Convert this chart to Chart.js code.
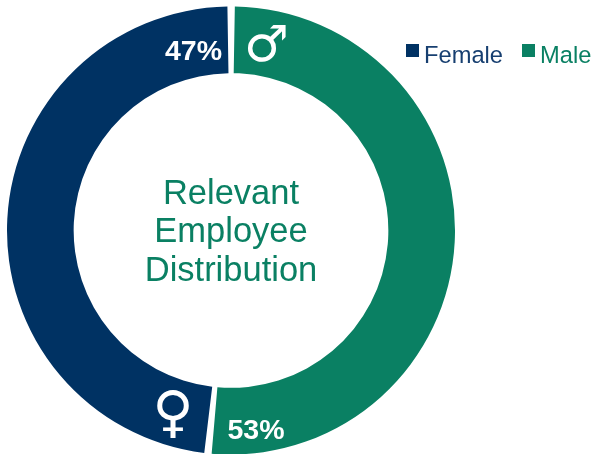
<!DOCTYPE html>
<html><head><meta charset="utf-8">
<style>html,body{margin:0;padding:0;background:#fff;overflow:hidden}#w{position:relative;width:594px;height:454px}</style>
<script src="https://cdn.jsdelivr.net/npm/chart.js@4"></script>
</head><body><div id="w"><canvas id="c" width="594" height="454"></canvas></div>
<script>
const categories = ['Female', 'Male'];
const arcShares = [48.35, 51.65];
const shareLabels = ['47%', '53%'];
const symbols = ['\u2640', '\u2642'];
const centerLines = ['Relevant', 'Employee', 'Distribution'];
const NAVY = '#003263', GREEN = '#0a8063';
const colors = [NAVY, GREEN];
const legendText = ['#173f70', GREEN];
const SANS = '"Liberation Sans", Arial, sans-serif';

const overlay = {
  id: 'overlay',
  afterDraw(chart) {
    const g = chart.ctx;
    g.save();
    g.textBaseline = 'middle';
    g.textAlign = 'center';
    g.fillStyle = '#fff';
    g.font = 'bold 28.5px ' + SANS;
    g.fillText(shareLabels[0], 193.5, 52);
    g.fillText(shareLabels[1], 256, 431);
    g.font = '50px "DejaVu Sans"';
    g.fillText(symbols[1], 266.5, 48);
    g.font = '56px "DejaVu Sans"';
    g.fillText(symbols[0], 173, 416);
    g.fillStyle = GREEN;
    g.font = '34.5px ' + SANS;
    centerLines.forEach((t, i) => g.fillText(t, 231, 194 + i * 38.5));
    g.textAlign = 'left';
    g.font = '23.7px ' + SANS;
    [[406, 424], [522, 540]].forEach((p, i) => {
      g.fillStyle = colors[i];
      g.fillRect(p[0], 44, 13, 13);
      g.fillStyle = legendText[i];
      g.fillText(categories[i], p[1], 56);
    });
    g.restore();
  }
};

new Chart(document.getElementById('c'), {
  type: 'doughnut',
  data: {
    labels: categories,
    datasets: [{ data: [arcShares[1], arcShares[0]], backgroundColor: [colors[1], colors[0]], borderWidth: 0, spacing: 4 }]
  },
  options: {
    responsive: false,
    animation: false,
    radius: 222,
    cutout: 155,
    layout: { padding: { left: 7, right: 139, top: 7, bottom: -1 } },
    plugins: { legend: { display: false }, tooltip: { enabled: false } }
  },
  plugins: [overlay]
});
</script></body></html>
